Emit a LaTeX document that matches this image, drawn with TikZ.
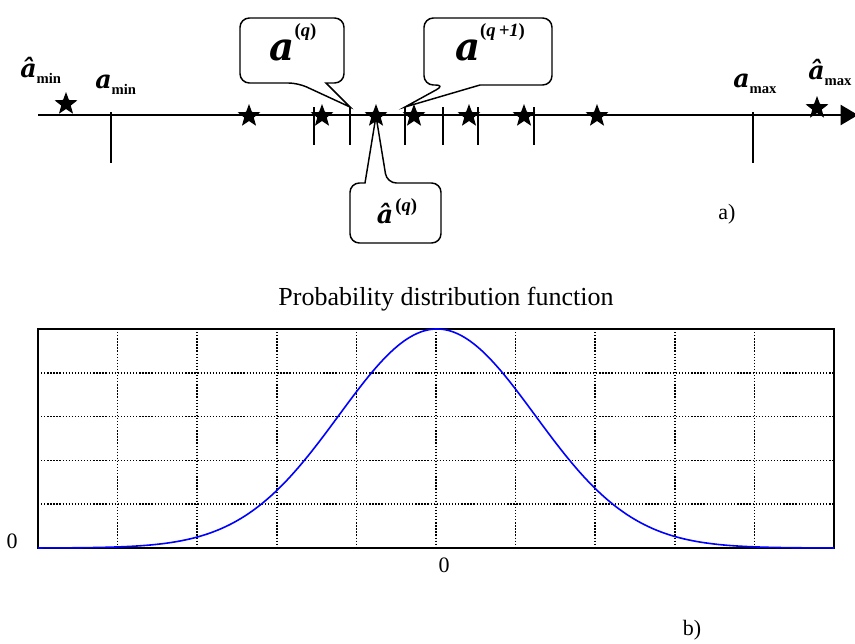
\documentclass[tikz,border=0pt]{standalone}
\usepackage{fontspec}
\setmainfont{Liberation Serif}
\newfontfamily\heavyserif{DejaVu Serif}
\usetikzlibrary{arrows.meta,shapes.geometric}

\newcommand{\biga}{{\heavyserif\fontsize{29}{29}\selectfont\bfseries\itshape a}}
\newcommand{\smalla}{{\heavyserif\fontsize{19}{19}\selectfont\bfseries\itshape a}}
\newcommand{\smallahat}{{\heavyserif\fontsize{19}{19}\selectfont\bfseries\itshape \^a}}
\newcommand{\supidx}[2]{\raisebox{#1}{\fontsize{14}{14}\selectfont\bfseries(\textit{#2})}}
\newcommand{\subidx}[1]{\raisebox{-4.5pt}{\fontsize{11}{11}\selectfont\bfseries #1}}

\begin{document}
\begin{tikzpicture}[
    x=0.75pt, y=-0.75pt,
    axis/.style={line width=1.5pt},
    tickmark/.style={line width=1.1pt},
    starmark/.style={star, star points=5, star point ratio=2.4, fill=black,
                     inner sep=0pt, minimum size=18pt},
    callout/.style={draw, line width=1.1pt, rounded corners=7pt},
    grid line/.style={line width=1.1pt, dash pattern=on 1pt off 1.3pt},
    frame/.style={line width=1.5pt},
    pdf/.style={blue, line width=1.2pt},
    lbl/.style={font=\fontsize{16.5}{18}\selectfont}
]
\useasboundingbox (0,0) rectangle (855,643);

% a) quantisation axis
\coordinate (axL) at (38,115);
\coordinate (axR) at (858,115);
\draw[axis,-{Triangle[length=13pt,width=15pt]}] (axL) -- (axR);

% long ticks at the range ends
\draw[tickmark] (111,112) -- (111,163);
\draw[tickmark] (753,112) -- (753,163);
% decision levels
\foreach \tx/\name in {314/t1, 350/t2, 405/t3, 443/t4, 478/t5, 534/t6}
    \draw[tickmark] (\tx,107) coordinate (\name) -- (\tx,145);

% reconstruction levels
\node[starmark] (s0) at (66,104) {};
\foreach \sx [count=\i] in {249, 322, 376, 414, 469, 524, 597}
    \node[starmark] (s\i) at (\sx,116) {};
\node[starmark] (s8) at (817,108) {};

% range labels
\node[anchor=base west, inner sep=0pt] (ahmin) at (20,77)  {\smallahat\subidx{min}};
\node[anchor=base west, inner sep=0pt] (amin)  at (95,88)  {\smalla\subidx{min}};
\node[anchor=base west, inner sep=0pt] (amax)  at (733,87) {\smalla\subidx{max}};
\node[anchor=base west, inner sep=0pt] (ahmax) at (808,79) {\smallahat\subidx{max}};

% callouts
\draw[callout] (240,18) -- (240,83) -- (298,83) [sharp corners] -- (t2) -- (326,83)
    [rounded corners=7pt] -- (344,83) -- (344,18) -- cycle;
\node[anchor=base, inner sep=0pt] (qlo) at (293,60) {\biga\supidx{18pt}{q}};

\draw[callout] (424,18) -- (424,85) -- (445,85) [sharp corners] -- (t3) -- (480,85)
    [rounded corners=7pt] -- (552,85) -- (552,18) -- cycle;
\node[anchor=base, inner sep=0pt] (qhi) at (490,60) {\biga\supidx{18pt}{q\,+1}};

\draw[callout] (350,183) -- (350,243) -- (441,243) -- (441,183) -- (387,183)
    [sharp corners] -- (s3.center) -- (365,183) [rounded corners=7pt] -- cycle;
\node[anchor=base, inner sep=0pt] (qhat) at (397,223) {\smallahat\,\supidx{9pt}{q}};

\node[lbl] (parta) at (727,214) {a)};

% b) probability distribution function
\node[font=\fontsize{19.5}{22}\selectfont] (title) at (446,299) {Probability distribution function};

\coordinate (plotSW) at (38,548);
\coordinate (plotNE) at (834,329);
\foreach \gx in {1,...,9}
    \draw[grid line] ({38+79.6*\gx},329) -- ({38+79.6*\gx},548);
\foreach \gy in {1,...,4}
    \draw[grid line] (38,{548-43.8*\gy}) -- (834,{548-43.8*\gy});
\draw[line width=0.8pt] (38,329) -- (834,329);
\draw[frame] (193,329) -- (38,329) -- (plotSW) -- (834,548) -- (plotNE) -- (703,329);

\draw[pdf] plot[domain=38:834, samples=240, smooth]
    (\x, {548-219*exp(-0.5*((\x-437)/98)^2)});

\node[lbl] (zeroy) at (12,541) {0};
\node[lbl] (zerox) at (444,565) {0};
\node[lbl] (partb) at (692,630) {b)};

\end{tikzpicture}
\end{document}
